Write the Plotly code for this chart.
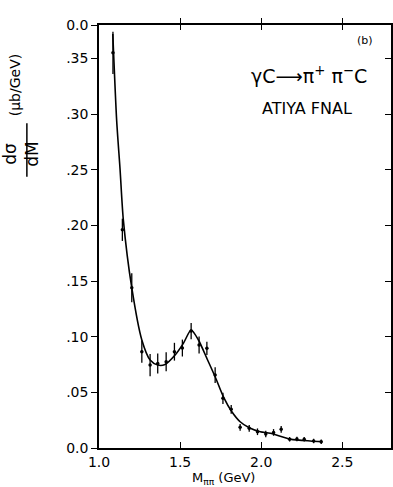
import plotly.graph_objects as go

# Measured dsigma/dM for gamma C -> pi+ pi- C (ATIYA, FNAL)
mass = [1.086, 1.144, 1.202, 1.264, 1.315, 1.362, 1.414, 1.465, 1.514, 1.568,
        1.617, 1.665, 1.716, 1.764, 1.815, 1.870, 1.926, 1.977, 2.028, 2.076,
        2.123, 2.175, 2.220, 2.265, 2.323, 2.370]
dsig = [0.355, 0.196, 0.144, 0.0865, 0.0745, 0.076, 0.0775, 0.0865, 0.0898, 0.105,
        0.0925, 0.0895, 0.0655, 0.0446, 0.0347, 0.0186, 0.0177, 0.0146, 0.0126, 0.014,
        0.0168, 0.0078, 0.008, 0.0078, 0.0063, 0.0057]
err = [0.019, 0.010, 0.013, 0.010, 0.010, 0.009, 0.0085, 0.008, 0.0076, 0.0072,
       0.0076, 0.006, 0.007, 0.005, 0.004, 0.003, 0.003, 0.003, 0.003, 0.003,
       0.003, 0.002, 0.002, 0.002, 0.002, 0.002]

# Fitted curve
fit_m = [1.085, 1.109, 1.130, 1.150, 1.202, 1.264, 1.315, 1.362, 1.407,
         1.469, 1.520, 1.568, 1.613, 1.665, 1.716, 1.767, 1.819, 1.870, 1.926,
         1.994, 2.056, 2.179, 2.302, 2.375]
fit_s = [0.372, 0.294, 0.250, 0.205, 0.144, 0.097, 0.079, 0.0745, 0.075,
         0.0835, 0.094, 0.106, 0.097, 0.0805, 0.064, 0.046, 0.0326, 0.0236, 0.0182,
         0.0146, 0.0132, 0.008, 0.0063, 0.0057]

x_ticks = [1.0, 1.5, 2.0, 2.5]
x_labels = ["1.0", "1.5", "2.0", "2.5"]
y_ticks = [0.0, 0.05, 0.10, 0.15, 0.20, 0.25, 0.30, 0.35, 0.38]
y_labels = ["0.0", ".05", ".10", ".15", ".20", ".25", ".30", ".35", "0.0"]

X_RANGE = [1.0, 2.8]
Y_RANGE = [0.0, 0.38]
FONT = "DejaVu Sans"

fig = go.Figure()

fig.add_trace(go.Scatter(
    x=fit_m, y=fit_s, mode="lines",
    line=dict(color="black", width=1.6, shape="spline", smoothing=0.7),
    hoverinfo="skip", showlegend=False))

fig.add_trace(go.Scatter(
    x=mass, y=dsig, mode="markers",
    marker=dict(color="black", size=3.5),
    error_y=dict(type="data", array=err, visible=True, width=0,
                 thickness=1.3, color="black"),
    showlegend=False))

# empty traces binding the frame axes and the title-only axes
for xa, ya in [("x2", "y2"), ("x3", "y"), ("x", "y3"), ("x", "y4")]:
    fig.add_trace(go.Scatter(x=[None], y=[None], xaxis=xa, yaxis=ya,
                             showlegend=False, hoverinfo="skip"))

axis_common = dict(showgrid=False, zeroline=False, showline=True,
                   linecolor="black", linewidth=1.5, tickcolor="black",
                   tickwidth=1.3)


def title_axis(text, domain, standoff, size):
    # invisible left axis used only to carry a rotated title
    return dict(domain=domain, anchor="x", side="left", showline=False,
                showgrid=False, zeroline=False, ticks="", showticklabels=False,
                automargin=False,
                title=dict(text=text, standoff=standoff,
                           font=dict(size=size, family=FONT, color="black")))


fig.update_layout(
    width=393, height=487,
    margin=dict(l=99, r=2, t=25, b=39),
    paper_bgcolor="white", plot_bgcolor="rgba(0,0,0,0)",
    font=dict(family=FONT, color="black"),
    xaxis=dict(range=X_RANGE, tickvals=x_ticks, ticktext=x_labels,
               ticks="inside", ticklen=6,
               tickfont=dict(size=14, family=FONT, color="black"),
               **axis_common),
    xaxis2=dict(range=X_RANGE, overlaying="x", side="top", anchor="y",
                tickvals=x_ticks[1:], ticks="outside", ticklen=5,
                showticklabels=False, **axis_common),
    xaxis3=dict(range=X_RANGE, overlaying="x", side="top", anchor="y",
                tickvals=x_ticks[1:], ticks="inside", ticklen=5,
                showticklabels=False, **axis_common),
    yaxis=dict(range=Y_RANGE, tickvals=y_ticks, ticktext=y_labels,
               ticks="outside", ticklen=6,
               tickfont=dict(size=14, family=FONT, color="black"),
               **axis_common),
    yaxis2=dict(range=Y_RANGE, overlaying="y", side="right", anchor="x",
                tickvals=y_ticks[1:-1], ticks="inside", ticklen=6,
                showticklabels=False, **axis_common),
    yaxis3=title_axis("(μb/GeV)", [0.80, 0.916], 74, 14),
    # numerator and denominator of dσ/dM stacked as two lines
    yaxis4=title_axis("dσ<br>dM", [0.645, 0.745], 56, 17),
)

# Panel label and reaction text
fig.add_annotation(x=2.642, y=0.366, xref="x", yref="y", text="(b)",
                   showarrow=False, font=dict(size=11, family=FONT))
fig.add_annotation(x=2.296, y=0.335, xref="x", yref="y",
                   text="γC⟶π<sup>+</sup> π<sup>−</sup>C",
                   showarrow=False, font=dict(size=19, family=FONT))
fig.add_annotation(x=2.284, y=0.305, xref="x", yref="y", text="ATIYA FNAL",
                   showarrow=False, font=dict(size=16, family=FONT))

# x-axis title
fig.add_annotation(x=0.428, y=-0.072, xref="paper", yref="paper",
                   xanchor="center", yanchor="middle",
                   text="M<sub>ππ</sub> (GeV)", showarrow=False,
                   font=dict(size=13, family=FONT))

# fraction bar of dσ/dM
fig.add_shape(type="line", xref="paper", yref="paper",
              x0=-0.247, x1=-0.247, y0=0.641, y1=0.768,
              line=dict(color="black", width=1.5))

fig.write_html("out.html")
